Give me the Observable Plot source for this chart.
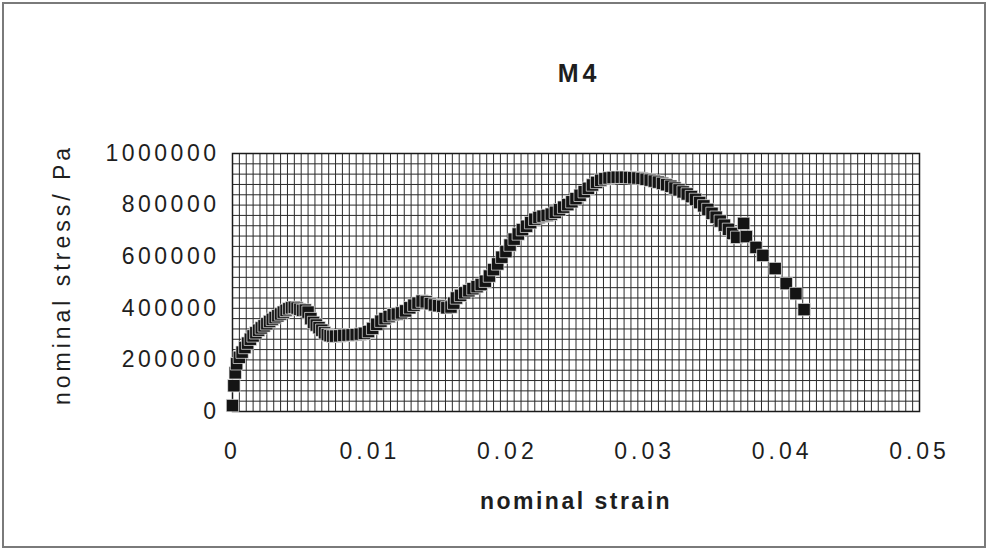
<!DOCTYPE html>
<html>
<head>
<meta charset="utf-8">
<script src="https://cdn.jsdelivr.net/npm/d3@7"></script>
<script src="https://cdn.jsdelivr.net/npm/@observablehq/plot@0.6"></script>
<style>
  html, body { margin: 0; padding: 0; background: #fff; }
  #wrap { position: relative; width: 994px; height: 551px; overflow: hidden; }
  #border { position: absolute; left: 2px; top: 2px; width: 980px; height: 542px; border: 2px solid #7a7a7a; pointer-events: none; }
  svg { font-family: "Liberation Sans", Arial, sans-serif; }
  g[aria-label="y-axis tick label"] text { letter-spacing: 3.5px; }
  g[aria-label="x-axis tick label"] text { letter-spacing: 4px; }
</style>
</head>
<body>
<div id="wrap"><div id="border"></div></div>
<script>
const title = "M4";
const xLabel = "nominal strain";
const yLabel = "nominal stress/ Pa";
const xTicks = [0, 0.01, 0.02, 0.03, 0.04, 0.05];
const yTicks = [0, 200000, 400000, 600000, 800000, 1000000];

const strain = [
  0, 0.0001, 0.0002, 0.0003, 0.0005, 0.0007, 0.0009, 0.0011, 0.0013, 0.0015,
  0.0017, 0.0019, 0.0021, 0.0023, 0.0025, 0.0027, 0.0029, 0.0031, 0.0033, 0.0035,
  0.0037, 0.0039, 0.0041, 0.0043, 0.0045, 0.0047, 0.0049, 0.0051, 0.0053, 0.0055,
  0.0057, 0.0059, 0.0061, 0.0063, 0.0065, 0.0067, 0.0069, 0.0071, 0.0073, 0.0075,
  0.0078, 0.0081, 0.0084, 0.0087, 0.0090, 0.0093, 0.0096, 0.0099, 0.0102, 0.0105,
  0.0108, 0.0111, 0.0114, 0.0117, 0.0120, 0.0123, 0.0126, 0.0129, 0.0132, 0.0135,
  0.0138, 0.0141, 0.0144, 0.0147, 0.0150, 0.0153, 0.0156, 0.0159, 0.0161, 0.0163,
  0.0166, 0.0169, 0.0172, 0.0175, 0.0178, 0.0181, 0.0184, 0.0187, 0.0190, 0.0193,
  0.0196, 0.0199, 0.0202, 0.0205, 0.0208, 0.0211, 0.0214, 0.0217, 0.0220, 0.0223,
  0.0226, 0.0229, 0.0232, 0.0235, 0.0238, 0.0241, 0.0244, 0.0247, 0.0250, 0.0253,
  0.0256, 0.0259, 0.0262, 0.0265, 0.0268, 0.0271, 0.0274, 0.0277, 0.0280, 0.0283,
  0.0286, 0.0289, 0.0292, 0.0295, 0.0298, 0.0301, 0.0304, 0.0307, 0.0310, 0.0313,
  0.0316, 0.0319, 0.0322, 0.0325, 0.0328, 0.0331, 0.0334, 0.0337, 0.0340, 0.0343,
  0.0346, 0.0349, 0.0352, 0.0355, 0.0358, 0.0361, 0.0364, 0.0367,
  0.0372, 0.0374, 0.0381, 0.0386, 0.0395, 0.0403, 0.0410, 0.0416
];
const stressK = [
  23, 100, 150, 185, 210, 230, 248, 265, 280, 293,
  305, 315, 324, 332, 340, 349, 357, 364, 371, 378,
  385, 392, 398, 402, 404, 401, 396, 392, 393, 385,
  360, 345, 335, 325, 315, 305, 298, 294, 292, 292,
  293, 295, 296, 297, 298, 300, 303, 310, 322, 338,
  350, 360, 368, 375, 378, 382, 390, 402, 412, 420,
  428, 425, 418, 413, 410, 408, 402, 405, 420, 440,
  450, 460, 468, 476, 484, 492, 505, 525, 550, 572,
  598, 620, 645, 668, 688, 705, 718, 732, 745, 752,
  757, 760, 765, 772, 782, 792, 802, 813, 825, 838,
  852, 865, 878, 888, 896, 902, 905, 907, 908, 908,
  908, 907, 906, 905, 903, 900, 897, 893, 889, 884,
  879, 873, 866, 859, 851, 843, 833, 822, 810, 797,
  783, 768, 753, 738, 722, 706, 690, 675,
  729, 678, 636, 605, 554, 496, 457, 395
];

const data = strain.map((s, i) => ({strain: s, stress: stressK[i] * 1000}));
const xGrid = d3.range(0, 101).map(i => i * 0.0005);
const yGrid = d3.range(0, 26).map(i => i * 40000);

const chart = Plot.plot({
  width: 994,
  height: 551,
  marginLeft: 232,
  marginRight: 75,
  marginTop: 153,
  marginBottom: 140,
  style: {fontFamily: "'Liberation Sans', Arial, sans-serif", color: "#1e1e1e", background: "transparent"},
  x: {domain: [0, 0.05]},
  y: {domain: [0, 1000000]},
  marks: [
    Plot.ruleX(xGrid, {stroke: "#2a2a2a", strokeWidth: 1}),
    Plot.ruleY(yGrid, {stroke: "#2a2a2a", strokeWidth: 1}),
    Plot.frame({stroke: "#1a1a1a", strokeWidth: 1.5}),
    Plot.axisX({ticks: xTicks, tickSize: 0, tickPadding: 31, tickFormat: d => String(d), fontSize: 23, label: null}),
    Plot.axisY({ticks: yTicks, tickSize: 0, tickPadding: 13, tickFormat: d => String(d), fontSize: 23, label: null}),
    Plot.dot(data, {x: "strain", y: "stress", symbol: "square", r: 7, fill: "#141414", stroke: "#eeeeee", strokeWidth: 0.7}),
    Plot.text([title], {frameAnchor: "top", dy: -80, dx: 3, fontSize: 25, fontWeight: "bold", fill: "#1e1e1e", lineAnchor: "middle"}),
    Plot.text([xLabel], {frameAnchor: "bottom", dy: 90, fontSize: 23, fontWeight: "bold", fill: "#1e1e1e", lineAnchor: "middle"}),
    Plot.text([yLabel], {frameAnchor: "left", dx: -170, dy: -8, rotate: -90, textAnchor: "middle", lineAnchor: "middle", fontSize: 23, fill: "#1e1e1e"})
  ]
});
document.getElementById("wrap").prepend(chart);
chart.querySelectorAll("text").forEach(t => {
  const s = t.textContent;
  if (s === title) t.setAttribute("letter-spacing", "4px");
  if (s === xLabel) t.setAttribute("letter-spacing", "2.5px");
  if (s === yLabel) t.setAttribute("letter-spacing", "4px");
});
</script>
</body>
</html>
